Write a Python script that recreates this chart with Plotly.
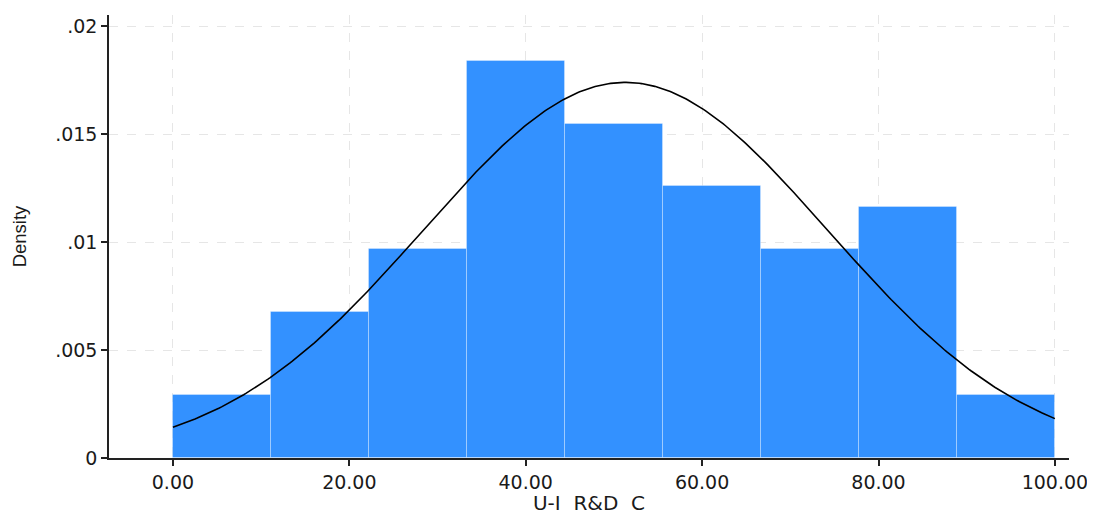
import numpy as np
import plotly.graph_objects as go

# Histogram bins (9 equal bins from 0 to 100) and densities
bin_start = 0.0
bin_end = 100.0
n_bins = 9
densities = [0.00290, 0.00677, 0.00967, 0.01838, 0.01548, 0.01258, 0.00967, 0.01161, 0.00290]

# Fitted normal overlay parameters
norm_mean = 51.3
norm_sd = 22.93

x_ticks = [0, 20, 40, 60, 80, 100]
y_ticks = [0, 0.005, 0.01, 0.015, 0.02]
y_ticklabels = ["0", ".005", ".01", ".015", ".02"]

width = (bin_end - bin_start) / n_bins
centers = [bin_start + width * (i + 0.5) for i in range(n_bins)]

xs = np.linspace(bin_start, bin_end, 400)
ys = np.exp(-0.5 * ((xs - norm_mean) / norm_sd) ** 2) / (norm_sd * np.sqrt(2 * np.pi))

fig = go.Figure()
fig.add_trace(go.Bar(
    x=centers, y=densities, width=[width] * n_bins,
    marker=dict(color="#3391ff", line=dict(color="rgba(255,255,255,0.3)", width=1)),
    showlegend=False, hoverinfo="skip",
))
fig.add_trace(go.Scatter(
    x=xs, y=ys, mode="lines", line=dict(color="black", width=1.6),
    showlegend=False, hoverinfo="skip",
))

wide_font = "DejaVu Sans, Verdana, sans-serif"
fig.update_layout(
    width=1087, height=507,
    margin=dict(l=101, r=22, t=7, b=55),
    paper_bgcolor="white", plot_bgcolor="white",
    bargap=0,
    font=dict(family=wide_font, size=19, color="#1a1a1a"),
    xaxis=dict(
        range=[-7.25, 101.6], tickvals=x_ticks, tickformat=".2f",
        showgrid=True, gridcolor="#e6e6e6", griddash="dash", gridwidth=1,
        showline=True, linecolor="#222", linewidth=1.5,
        ticks="outside", ticklen=6, tickcolor="#222", tickwidth=1.5,
        zeroline=False,
        title=dict(text="U-I\u00a0\u00a0R&D\u00a0\u00a0C", font=dict(size=20), standoff=1),
    ),
    yaxis=dict(
        range=[0, 0.02052], tickvals=y_ticks, ticktext=y_ticklabels,
        showgrid=True, gridcolor="#e6e6e6", griddash="dash", gridwidth=1,
        showline=True, linecolor="#222", linewidth=1.5,
        ticks="outside", ticklen=6, tickcolor="#222", tickwidth=1.5,
        zeroline=False,
        title=dict(text="Density", font=dict(family="Liberation Sans, Arial, sans-serif", size=18.5), standoff=24),
    ),
)
fig.write_html("out.html")
